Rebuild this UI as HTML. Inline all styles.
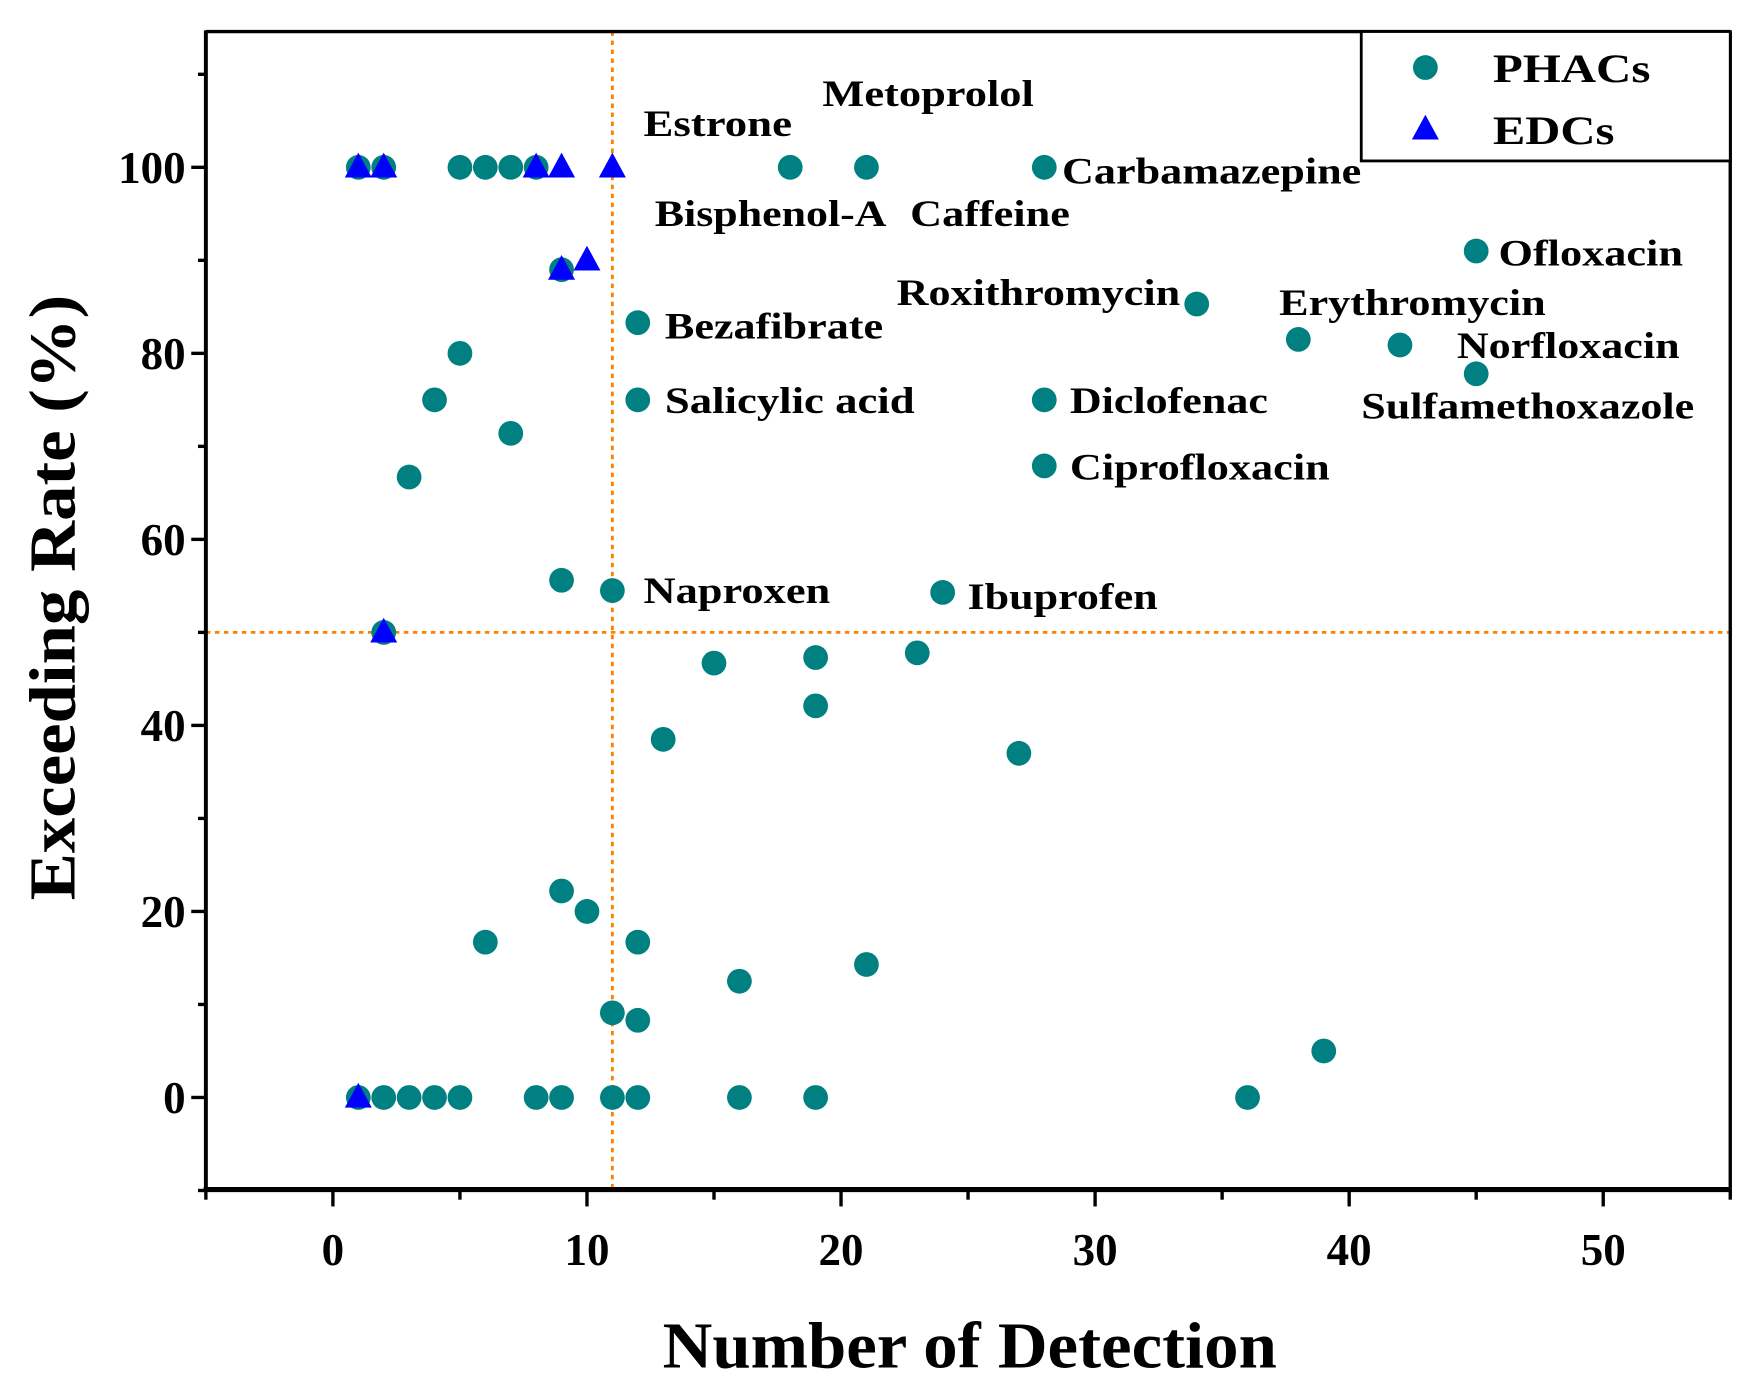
<!DOCTYPE html>
<html><head><meta charset="utf-8"><style>
html,body{margin:0;padding:0;background:#fff;}
svg{display:block;}
text{font-family:"Liberation Serif",serif;font-weight:bold;fill:#000;}
</style></head><body>
<svg id="chart" width="1764" height="1400" viewBox="0 0 1568 1244" preserveAspectRatio="none" xmlns="http://www.w3.org/2000/svg">
<rect x="0" y="0" width="1568" height="1244" fill="#fff"/>
<g id="refs"></g>
<g id="marks"></g>
<g id="axes"></g>
<g font-size="33">
<text x="572" y="121" textLength="132" lengthAdjust="spacingAndGlyphs">Estrone</text>
<text x="731" y="94" textLength="188" lengthAdjust="spacingAndGlyphs">Metoprolol</text>
<text x="944" y="163" textLength="266" lengthAdjust="spacingAndGlyphs">Carbamazepine</text>
<text x="582" y="201" textLength="206" lengthAdjust="spacingAndGlyphs">Bisphenol-A</text>
<text x="809" y="201" textLength="142" lengthAdjust="spacingAndGlyphs">Caffeine</text>
<text x="1332" y="236" textLength="164" lengthAdjust="spacingAndGlyphs">Ofloxacin</text>
<text x="797" y="271" textLength="252" lengthAdjust="spacingAndGlyphs">Roxithromycin</text>
<text x="1137" y="280" textLength="237" lengthAdjust="spacingAndGlyphs">Erythromycin</text>
<text x="591" y="301" textLength="194" lengthAdjust="spacingAndGlyphs">Bezafibrate</text>
<text x="1295" y="318" textLength="198" lengthAdjust="spacingAndGlyphs">Norfloxacin</text>
<text x="1210" y="372" textLength="296" lengthAdjust="spacingAndGlyphs">Sulfamethoxazole</text>
<text x="591" y="367" textLength="222" lengthAdjust="spacingAndGlyphs">Salicylic acid</text>
<text x="951" y="367" textLength="176" lengthAdjust="spacingAndGlyphs">Diclofenac</text>
<text x="951" y="426" textLength="231" lengthAdjust="spacingAndGlyphs">Ciprofloxacin</text>
<text x="572" y="536" textLength="166" lengthAdjust="spacingAndGlyphs">Naproxen</text>
<text x="860" y="541" textLength="169" lengthAdjust="spacingAndGlyphs">Ibuprofen</text>
</g>
<g>
<rect x="1210" y="28" width="328" height="115" fill="#fff" stroke="#000" stroke-width="2.5"/>
<circle cx="1267" cy="60" r="11" fill="#008080"/>
<text x="1327" y="73" font-size="36" textLength="140" lengthAdjust="spacingAndGlyphs">PHACs</text>
<polygon points="1267,102 1255,124 1279,124" fill="#0000ff"/>
<text x="1327" y="128" font-size="36" textLength="108" lengthAdjust="spacingAndGlyphs">EDCs</text>
</g>
<text x="862" y="1215" font-size="58" text-anchor="middle" textLength="546" lengthAdjust="spacingAndGlyphs">Number of Detection</text>
<text transform="translate(66,531) rotate(-90)" x="0" y="0" font-size="58" text-anchor="middle" textLength="538" lengthAdjust="spacingAndGlyphs">Exceeding Rate (%)</text>
</svg>
<script>
const phacX = [1,2,5,6,7,8,18,21,28, 9,12,5,4,12,28,7,3,28, 34,38,42,45,45, 9,11,24,2, 15,19,23,19,13,27, 9,10,6,12,21,16,11,12,39, 1,2,3,4,5,8,9,11,12,16,19,36];
const phacY = [100,100,100,100,100,100,100,100,100, 89,83.3,80,75,75,75,71.4,66.7,67.9, 85.3,81.5,80.9,91,77.8, 55.6,54.5,54.3,50, 46.7,47.3,47.8,42.1,38.5,37, 22.2,20,16.7,16.7,14.3,12.5,9.1,8.3,5, 0,0,0,0,0,0,0,0,0,0,0,0];
const edcX = [1,2,8,9,11,9,10,2,1];
const edcY = [100,100,100,100,100,89,90,50,0];
const xTicks = [0,10,20,30,40,50];
const yTicks = [0,20,40,60,80,100];
const refX = 11, refY = 50;

const NS = "http://www.w3.org/2000/svg";
const L=183,R=1538,T=28,B=1057;
const xMin=-5,xMax=55,yMin=-9.9,yMax=114.6;
function sx(v){return L+(v-xMin)/(xMax-xMin)*(R-L);}
function sy(v){return B-(v-yMin)/(yMax-yMin)*(B-T);}
function mk(tag,attrs,parent){const e=document.createElementNS(NS,tag);for(const k in attrs)e.setAttribute(k,attrs[k]);parent.appendChild(e);return e;}

const refs=document.getElementById('refs');
let rl=mk('line',{x1:sx(refX),x2:sx(refX),y1:T,y2:B,stroke:'#ff8000','stroke-width':2.5,'stroke-dasharray':'4,4'},refs);


rl=mk('line',{x1:L,x2:R,y1:sy(refY),y2:sy(refY),stroke:'#ff8000','stroke-width':2.5,'stroke-dasharray':'4,4'},refs);



const marks=document.getElementById('marks');
for(let i=0;i<phacX.length;i++){
  const c=mk('circle',{cx:sx(phacX[i]),cy:sy(phacY[i]),r:11,fill:'#008080'},marks);
  
  
}
for(let i=0;i<edcX.length;i++){
  const x=sx(edcX[i]),y=sy(edcY[i]);
  const p=mk('polygon',{points:`${x},${y-13} ${x-12},${y+9} ${x+12},${y+9}`,fill:'#0000ff'},marks);
  
  
}

const axes=document.getElementById('axes');
mk('line',{x1:L,x2:R,y1:T,y2:T,stroke:'#000','stroke-width':3},axes);
mk('line',{x1:R,x2:R,y1:T,y2:B,stroke:'#000','stroke-width':3},axes);
let ax=mk('line',{x1:L,x2:L,y1:T-1,y2:B+2,stroke:'#000','stroke-width':3.5},axes);


ax=mk('line',{x1:L-2,x2:R+1,y1:B,y2:B,stroke:'#000','stroke-width':4.5},axes);


for(let v=-5;v<=55;v+=5){
  const major=v%10===0;
  mk('line',{x1:sx(v),x2:sx(v),y1:B,y2:B+(major?15:9),stroke:'#000','stroke-width':3},axes);
}
xTicks.forEach(v=>{
  const t=mk('text',{x:sx(v),y:1124,'font-size':40,'text-anchor':'middle'},axes);
  t.textContent=v;
  
  
});
for(let v=-10;v<=110;v+=10){
  const major=v%20===0;
  mk('line',{x1:L-(major?13:7),x2:L,y1:sy(v),y2:sy(v),stroke:'#000','stroke-width':3},axes);
}
yTicks.forEach(v=>{
  const t=mk('text',{x:165,y:sy(v)+14,'font-size':40,'text-anchor':'end'},axes);
  t.textContent=v;
  
  
});
</script>
</body></html>
